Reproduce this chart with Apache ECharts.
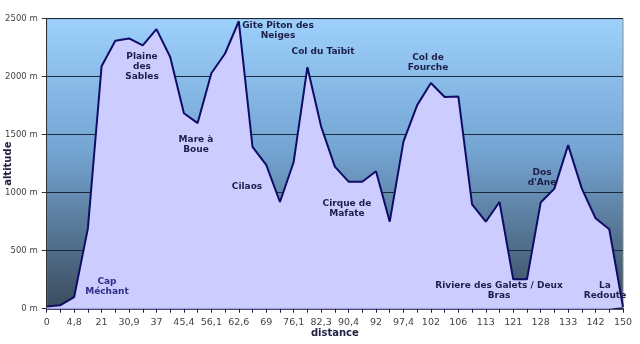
<!DOCTYPE html>
<html>
<head>
<meta charset="utf-8">
<script src="https://cdn.jsdelivr.net/npm/echarts@6/dist/echarts.min.js"></script>
<style>
  html, body { margin: 0; padding: 0; background: #ffffff; }
  #chart { width: 640px; height: 344px; }
</style>
</head>
<body>
<div id="chart"></div>
<script>
// Distance labels (km), shown on every other profile point
const distanceLabels = ['0', '4,8', '21', '30,9', '37', '45,4', '56,1', '62,6', '69', '76,1', '82,3',
  '90,4', '92', '97,4', '102', '106', '113', '121', '128', '133', '142', '150'];

// Altitude (m) at each profile point
const altitude = [20, 30, 100, 690, 2090, 2310, 2330, 2270, 2410, 2170, 1685, 1600, 2030, 2200, 2478,
  1395, 1240, 920, 1265, 2082, 1570, 1225, 1095, 1095, 1185, 750, 1440, 1755, 1946, 1825, 1830,
  900, 750, 920, 253, 253, 915, 1035, 1410, 1035, 780, 685, 15];

// Place names along the route
const places = [
  { text: 'Cap\nMéchant', x: 107, y: 287, color: '#2e2e8a' },
  { text: 'Plaine\ndes\nSables', x: 142, y: 67 },
  { text: 'Mare à\nBoue', x: 196, y: 145 },
  { text: 'Gite Piton des\nNeiges', x: 278, y: 31 },
  { text: 'Cilaos', x: 247, y: 187 },
  { text: 'Col du Taïbit', x: 323, y: 52 },
  { text: 'Cirque de\nMafate', x: 347, y: 209 },
  { text: 'Col de\nFourche', x: 428, y: 63 },
  { text: 'Dos\nd\'Ane', x: 542, y: 178 },
  { text: 'Riviere des Galets / Deux\nBras', x: 499, y: 291 },
  { text: 'La\nRedoute', x: 605, y: 291 }
];

// One category per profile point; only even points carry a distance label
const categories = altitude.map((_, i) => (i % 2 === 0 ? distanceLabels[i / 2] : ''));

const FONT = 'DejaVu Sans, Verdana, sans-serif';

const chart = echarts.init(document.getElementById('chart'), null, { renderer: 'canvas' });

chart.setOption({
  animation: false,
  backgroundColor: '#ffffff',
  grid: {
    left: 46.7, right: 17, top: 18.7, bottom: 35.3,
    containLabel: false,
    outerBoundsMode: 'none',
    show: true,
    borderColor: '#8a8a8a',
    borderWidth: 1,
    backgroundColor: {
      type: 'linear', x: 0, y: 0, x2: 0, y2: 1,
      colorStops: [
        { offset: 0, color: '#9dd0fc' },
        { offset: 0.45, color: '#75a5d3' },
        { offset: 1, color: '#3a4b5c' }
      ]
    }
  },
  xAxis: {
    type: 'category',
    data: categories,
    boundaryGap: false,
    axisLine: { lineStyle: { color: '#1a1a50', width: 1.5 } },
    axisTick: { interval: 0, length: 4, lineStyle: { color: '#1a1a50' } },
    axisLabel: { interval: 0, color: '#444444', fontFamily: FONT, fontSize: 9.5, margin: 9 },
    splitLine: { show: false },
    name: 'distance',
    nameLocation: 'middle',
    nameGap: 20,
    nameMoveOverlap: false,
    nameTextStyle: { color: '#222244', fontFamily: FONT, fontSize: 10, fontWeight: 'bold' }
  },
  yAxis: {
    type: 'value',
    min: 0, max: 2500, interval: 500,
    axisLine: { show: true, lineStyle: { color: '#333333' } },
    axisTick: { show: true, length: 5, lineStyle: { color: '#333333' } },
    axisLabel: { color: '#444444', fontFamily: FONT, fontSize: 8.5, margin: 9,
      formatter: v => v + ' m' },
    splitLine: { lineStyle: { color: '#1c2838', width: 1 } },
    name: 'altitude',
    nameLocation: 'middle',
    nameGap: 33,
    nameRotate: 90,
    nameMoveOverlap: false,
    nameTextStyle: { color: '#222244', fontFamily: FONT, fontSize: 10, fontWeight: 'bold' }
  },
  series: [{
    type: 'line',
    data: altitude,
    symbol: 'none',
    lineStyle: { color: '#0d0d66', width: 2 },
    areaStyle: { color: '#ccccff', opacity: 1 },
    z: 3
  }],
  graphic: places.map(p => ({
    type: 'text',
    x: p.x,
    y: p.y,
    z: 10,
    style: {
      text: p.text,
      fill: p.color || '#1e1e48',
      font: 'bold 9px ' + FONT,
      align: 'center',
      verticalAlign: 'middle',
      lineHeight: 10
    }
  }))
});
</script>
</body>
</html>
